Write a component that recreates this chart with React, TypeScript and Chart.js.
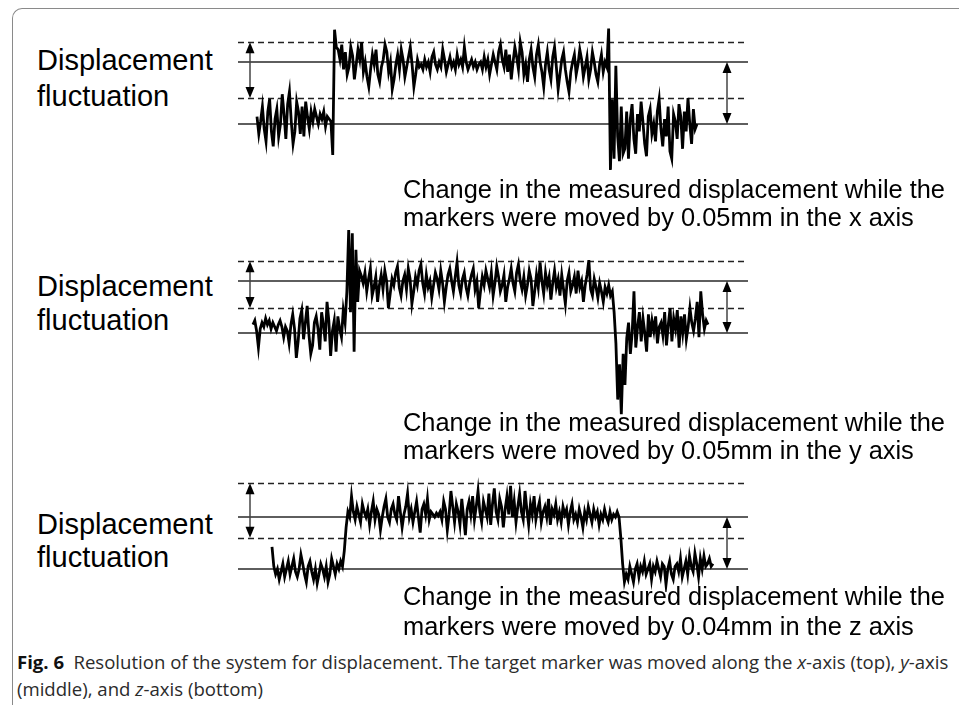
import React, { useEffect, useLayoutEffect, useRef } from "react";
import { Chart, registerables } from "chart.js";

Chart.register(...registerables);

// ---------------- DATA (displacement in µm, one value per sample) ----------------
const xAxisTrace = [
  6, -8, 2, 14, -4, -14, 10, 20, -6, -18, 4, 12, -10, 0, 24, 8, -12, 16, 26, 2,
  -16, -6, 18, 10, -8, 14, -10, 18, 6, -4, 10, 2, 12, 6, 0, 8, 4, 10, -2, 6, 4, 2,
  -25, 76, 62,
  60, 52, 64, 44, 58, 40, 46, 62, 55, 36, 48, 60, 52, 66, 42, 50, 38, 30, 44, 56,
  48, 60, 40, 34, 46, 52, 64, 58, 42, 50, 28, 36, 48, 56, 44, 60, 52, 38, 46, 54, 62, 48, 30, 40, 52, 46,
  48, 44, 52, 46, 50, 42, 54, 58, 48, 44, 50, 46, 60, 52, 42, 48, 54, 46, 50, 44,
  56, 48, 52, 46, 62, 50, 44, 48, 52, 46, 50, 44, 48,
  50, 44, 54, 46, 52, 40, 48, 56, 50, 44, 58, 64, 52, 46, 60, 42, 56, 36, 50, 62,
  54, 44, 66, 58, 40, 48, 34, 52, 60, 46, 38, 56, 64, 50, 42, 30, 48, 58, 44, 36,
  54, 62, 46, 28, 40, 52, 58, 44, 34, 26, 42, 50, 56, 40, 48, 60, 52, 38, 46, 54,
  36, 44, 58, 50, 40, 34, 48, 56, 42, 50, 46,
  77, -37, 20, -28, 47, -10, -30, 14, -24,
  -20, 10, -28, 4, 16, -12, -24, 8, -6, 18, 2, -16, -26, 6, 12, -8, 0, -14, 10, 20,
  -4, -18, 4, -10, 14, -22, -28, 8, 2, -12, 16, 6, -20, 10, -6, 21, 0, -16, 12, -4, 0,
];

const yAxisTrace = [
  8, 12, 2, -14, 4, 10, 6, 14, 8, 12, 4, 10, 6, 2, 8, 12, 6, -4, 6, 2,
  -10, 8, 18, 4, -24, -8, 14, 22, -6, 10, 26, -2, -20, -12, 10, 16, 4, -16, 20, 8,
  -8, 30, 12, -22, 2, 12, -18, 16, 4, -4, 22, 10,
  40, 99, 20, 96, -18, 80, 30,
  60, 55, 48, 58, 40, 52, 62, 36, 44, 54, 30, 46, 56, 42, 60, 50, 24, 38, 52, 46,
  58, 64, 44, 36, 50, 56, 42, 62, 52, 28, 40, 54, 46, 60, 66, 48, 38, 56, 44, 50,
  34, 46, 58, 52, 42, 60, 48, 30, 44, 56, 62, 50, 40, 54, 68, 46, 38, 52, 58, 44,
  36, 48, 56, 62, 42, 50, 24, 40, 54, 46, 60, 52, 44, 58, 36, 48, 64, 54, 40, 46,
  56, 30, 44, 52, 62, 48, 40, 58, 66, 50, 42, 54, 36, 46, 60, 52, 26, 40, 56, 44,
  68, 50, 38, 58, 46, 54, 32, 48, 60, 44, 52, 36, 56, 42, 28, 50, 58, 40, 46, 54,
  38, 60, 44, 50, 30, 46, 56, 70, 42, 36, 52, 44, 34, 48, 40, 30, 44, 38, 46, 36, 40,
  20, -10, -64, -30, -78, -20, -50,
  -5, 10, -20, 0, 40, -14, 6, 20, -8, 14, 0, -18, 18, -4, 12, 2, 16, -10, 6, 10,
  -2, 20, -12, 8, 24, -8, 14, 4, 22, -14, 16, 0, 18, -6, 6, 24, 10, 2, 14, 30,
  -4, 40, 18, 4, 12, 8,
];

const zAxisTrace = [
  17, 2, -4, 0, -8, -2, 4, -6, 0, 6, -4, 2, 8, -2, -6, 0, 11, 4, -4, -10,
  2, 6, -2, -8, 0, -11, -4, 4, 0, -6, 2, -10, -4, 8, 2, -4, 4, 0, 6, 2,
  14, 32, 44,
  40, 56, 44, 38, 48, 42, 36, 50, 44, 40, 46, 34, 44, 52, 38, 46, 42, 30, 40, 48,
  54, 40, 36, 46, 50, 42, 38, 56, 44, 32, 42, 48, 58, 40, 46, 36, 44, 52, 40, 28,
  46, 50, 42, 54, 38, 44, 42, 40, 43, 41, 44, 38, 52, 46, 30, 42, 60, 48, 36, 50,
  44, 34, 54, 40, 26, 46, 52, 42, 56, 38, 48, 60, 44, 36, 52, 46, 40, 58, 34, 50,
  62, 44, 38, 54, 48, 32, 46, 56, 42, 64, 40, 52, 36, 48, 58, 44, 38, 60, 46, 34,
  50, 42, 56, 38, 46, 52, 36, 44, 48, 40, 54, 34, 46, 42, 50, 38, 44, 36, 48, 42,
  46, 34, 44, 50, 38, 42, 36, 46, 40, 32, 44, 38, 48, 42, 36, 46, 40, 44, 34, 42,
  38, 46, 40, 36, 44, 38, 42, 40, 44, 40,
  24, 4, -10, -4,
  -8, 2, -4, -10, 0, 4, -6, 2, -2, 6, -4, 0, 4, -8, 2, -2, 6, 0, -6, 4,
  2, -12, 0, 6, -4, -8, 2, 4, -2, 8, -6, 0, 6, -4, 10, 2, -2, 12, 4, -6,
  8, 0, 10, 2, 4, 8, 2, 4,
];

// reference levels (µm): solid = before / after the move, dashed = fluctuation band
const xSolidLevels = [0, 50];
const xDashedLevels = [21, 66];
const ySolidLevels = [0, 50];
const yDashedLevels = [24, 69];
const zSolidLevels = [0, 40];
const zDashedLevels = [24, 66];

const sideLabel = ["Displacement", "fluctuation"];
const xNote = ["Change in the measured displacement while the", "markers were moved by 0.05mm in the x axis"];
const yNote = ["Change in the measured displacement while the", "markers were moved by 0.05mm in the y axis"];
const zNote = ["Change in the measured displacement while the", "markers were moved by 0.04mm in the z axis"];

// ---------------- LAYOUT ----------------
const LINE_LEFT = 238;
const LINE_RIGHT = 748;
const LEFT_ARROW = 250;
const RIGHT_ARROW = 727;

type Panel = {
  values: number[];
  solid: number[];
  dashed: number[];
  top: number;
  bottom: number;
  zeroPx: number;
  highPx: number;
  traceStart: number;
  traceEnd: number;
  labelBase: number[];
  noteBase: number[];
  note: string[];
};

const panels: Panel[] = [
  { values: xAxisTrace, solid: xSolidLevels, dashed: xDashedLevels, top: 20, bottom: 180, zeroPx: 124, highPx: 62,
    traceStart: 257, traceEnd: 697, labelBase: [71, 107], noteBase: [199, 227], note: xNote },
  { values: yAxisTrace, solid: ySolidLevels, dashed: yDashedLevels, top: 225, bottom: 420, zeroPx: 333, highPx: 281,
    traceStart: 253, traceEnd: 708, labelBase: [297, 331], noteBase: [432, 460], note: yNote },
  { values: zAxisTrace, solid: zSolidLevels, dashed: zDashedLevels, top: 470, bottom: 592, zeroPx: 569, highPx: 517,
    traceStart: 272, traceEnd: 713, labelBase: [535, 568], noteBase: [606, 636], note: zNote },
];

const SANS = '"Liberation Sans", Arial, Helvetica, sans-serif';

function drawHead(ctx: CanvasRenderingContext2D, x: number, tipY: number, dir: number) {
  ctx.beginPath();
  ctx.moveTo(x, tipY);
  ctx.lineTo(x - 4.5, tipY - dir * 11);
  ctx.lineTo(x + 4.5, tipY - dir * 11);
  ctx.closePath();
  ctx.fill();
}

function Trace({ p }: { p: Panel }) {
  const ref = useRef<HTMLCanvasElement | null>(null);
  useEffect(() => {
    const canvas = ref.current!;
    const n = p.values.length;
    const pxPerSample = (p.traceEnd - p.traceStart) / (n - 1);
    const xMin = -(p.traceStart - LINE_LEFT) / pxPerSample;
    const xMax = n - 1 + (LINE_RIGHT - p.traceEnd) / pxPerSample;
    const pxPerUnit = (p.zeroPx - p.highPx) / p.solid[1];
    const yMax = (p.zeroPx - p.top) / pxPerUnit;
    const yMin = -(p.bottom - p.zeroPx) / pxPerUnit;

    const guides = {
      id: "guides",
      beforeDatasetsDraw(chart: any) {
        const { ctx, chartArea: a } = chart;
        const y = chart.scales.y;
        ctx.save();
        ctx.lineWidth = 2;
        ctx.strokeStyle = "#5e5e5e";
        for (const v of p.solid) {
          const py = Math.round(y.getPixelForValue(v));
          ctx.beginPath();
          ctx.moveTo(a.left, py);
          ctx.lineTo(a.right, py);
          ctx.stroke();
        }
        ctx.setLineDash([6, 4]);
        ctx.lineWidth = 1.5;
        ctx.strokeStyle = "#222";
        for (const v of p.dashed) {
          const py = Math.round(y.getPixelForValue(v)) + 0.5;
          ctx.beginPath();
          ctx.moveTo(a.left, py);
          ctx.lineTo(a.right, py);
          ctx.stroke();
        }
        ctx.restore();
      },
      afterDatasetsDraw(chart: any) {
        const { ctx } = chart;
        const y = chart.scales.y;
        const arrows = [
          { x: LEFT_ARROW - LINE_LEFT, a: p.dashed[1], b: p.dashed[0] },
          { x: RIGHT_ARROW - LINE_LEFT, a: p.solid[1], b: p.solid[0] },
        ];
        ctx.save();
        for (const ar of arrows) {
          const y1 = y.getPixelForValue(ar.a);
          const y2 = y.getPixelForValue(ar.b);
          ctx.strokeStyle = "#444";
          ctx.lineWidth = 1.5;
          ctx.beginPath();
          ctx.moveTo(ar.x, y1 + 8);
          ctx.lineTo(ar.x, y2 - 8);
          ctx.stroke();
          ctx.fillStyle = "#000";
          drawHead(ctx, ar.x, y1, -1);
          drawHead(ctx, ar.x, y2, 1);
        }
        ctx.restore();
      },
    };

    const chart = new Chart(canvas, {
      type: "line",
      data: {
        datasets: [
          {
            data: p.values.map((v, i) => ({ x: i, y: v })),
            borderColor: "#000",
            borderWidth: 2.8,
            pointRadius: 0,
            tension: 0,
            fill: false,
            clip: false as any,
          },
        ],
      },
      options: {
        animation: false,
        responsive: false,
        maintainAspectRatio: false,
        events: [],
        layout: { padding: 0 },
        scales: {
          x: { type: "linear", display: false, min: xMin, max: xMax },
          y: { type: "linear", display: false, min: yMin, max: yMax },
        },
        plugins: { legend: { display: false }, tooltip: { enabled: false } },
      },
      plugins: [guides as any],
    });
    return () => chart.destroy();
  }, [p]);

  return (
    <canvas
      ref={ref}
      width={LINE_RIGHT - LINE_LEFT}
      height={p.bottom - p.top}
      style={{ position: "absolute", left: LINE_LEFT, top: p.top, width: LINE_RIGHT - LINE_LEFT, height: p.bottom - p.top }}
    />
  );
}

function Line({ text, left, base, size }: { text: string; left: number; base: number; size: number }) {
  return (
    <div
      style={{
        position: "absolute",
        left,
        top: base - 0.8465 * size,
        fontFamily: SANS,
        fontSize: size,
        lineHeight: `${size}px`,
        whiteSpace: "nowrap",
        color: "#000",
      }}
    >
      {text}
    </div>
  );
}

function Caption() {
  const l1 = useRef<HTMLDivElement | null>(null);
  const l2 = useRef<HTMLDivElement | null>(null);
  useLayoutEffect(() => {
    const fit = () => {
      if (!l1.current || !l2.current) return;
      l1.current.style.transform = "none";
      const k = 931 / l1.current.scrollWidth;
      l1.current.style.transform = `scaleX(${k})`;
      l2.current.style.transform = `scaleX(${k})`;
    };
    fit();
    (document as any).fonts?.ready?.then(fit);
  }, []);
  const common: React.CSSProperties = {
    position: "absolute",
    left: 17,
    fontFamily: '"Open Sans", "Noto Sans", sans-serif',
    fontSize: 18,
    lineHeight: "18px",
    whiteSpace: "nowrap",
    color: "#2b2b2b",
    transformOrigin: "0 0",
  };
  return (
    <>
      <div ref={l1} style={{ ...common, top: 669 - 0.888 * 18 }}>
        <b style={{ color: "#111" }}>Fig. 6</b>
        {"\u2002Resolution of the system for displacement. The target marker was moved along the "}
        <i>x</i>-axis (top), <i>y</i>-axis
      </div>
      <div ref={l2} style={{ ...common, top: 696 - 0.888 * 18 }}>
        (middle), and <i>z</i>-axis (bottom)
      </div>
    </>
  );
}

export default function App() {
  return (
    <div style={{ position: "absolute", left: 0, top: 0, width: 959, height: 705, overflow: "hidden", background: "#fff" }}>
      <div
        style={{
          position: "absolute",
          left: 12,
          top: 8,
          width: 1000,
          height: 800,
          borderLeft: "1px solid #8a8a8a",
          borderTop: "1px solid #8a8a8a",
          borderTopLeftRadius: 10,
        }}
      />
      {panels.map((p, i) => (
        <React.Fragment key={i}>
          <Trace p={p} />
          <Line text={sideLabel[0]} left={37} base={p.labelBase[0]} size={29} />
          <Line text={sideLabel[1]} left={37} base={p.labelBase[1]} size={29} />
          <Line text={p.note[0]} left={403} base={p.noteBase[0]} size={25.4} />
          <Line text={p.note[1]} left={403} base={p.noteBase[1]} size={25.4} />
        </React.Fragment>
      ))}
      <Caption />
    </div>
  );
}
